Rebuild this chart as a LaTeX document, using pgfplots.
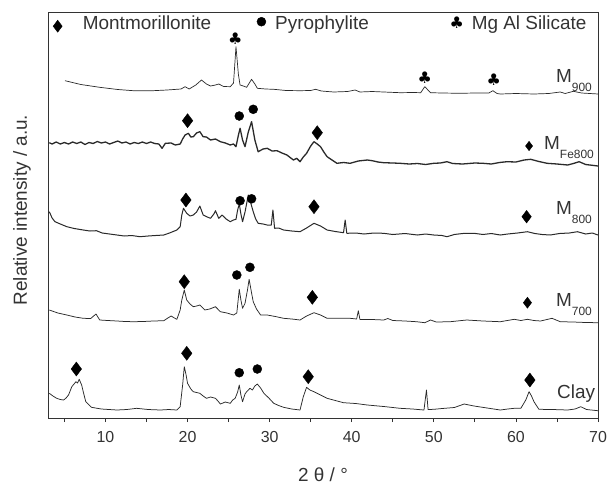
\documentclass[border=0pt]{standalone}
\usepackage{fontspec}
\setmainfont{Liberation Sans}
\newfontfamily\djv{DejaVu Sans}
\usepackage{pgfplots}
\pgfplotsset{compat=1.18}
\definecolor{curve}{HTML}{2A2A2A}
\definecolor{frame}{HTML}{333333}
\newcommand{\sam}[2]{{\fontsize{19}{19}\selectfont #1}\raisebox{-8.6bp}{\fontsize{12}{12}\selectfont #2}}
\begin{document}
\begin{tikzpicture}
\begin{axis}[
  scale only axis, width=550bp, height=406bp,
  xmin=3, xmax=70, ymin=12, ymax=418, y dir=reverse,
  clip=false,
  axis line style={frame, line width=0.9bp},
  xtick={10,20,...,70}, minor xtick={5,15,...,65},
  ytick=\empty,
  tick pos=bottom, tick align=outside,
  major tick length=4bp, minor tick length=4bp,
  every tick/.style={frame, line width=0.8bp},
  /pgf/number format/assume math mode=true,
  xticklabel style={font=\fontsize{16}{16}\selectfont, text=frame, yshift=-6bp},
  cycle list={{curve, no markers, line width=0.7bp, line join=round}},
]
% M900
\addplot[curve, no markers, line width=0.7bp, line join=round] coordinates {(5.07,80.7) (7,84.5) (9.3,87.3) (11.5,89.5) (13.4,90.7) (15.5,90.8) (17.5,90) (19.2,89) (19.7,86.7) (20.2,89) (21,85) (21.7,80) (22.3,84) (22.8,86) (23.4,85) (23.8,84) (24.4,86.5) (25.2,86.7) (25.6,83) (25.9,46.7) (26.2,75) (26.4,85) (26.8,86) (27.2,87.3) (27.8,79.3) (28.2,84) (28.5,88.3) (29.5,89) (30.5,89.3) (32,90.5) (33.7,90.7) (35.0,90.5) (35.6,89.3) (36.3,91) (37.8,92) (39.5,91.5) (40.4,90) (41,92) (42.5,91.5) (43.9,92) (45.9,92.7) (47.5,92.5) (48.4,92.7) (48.9,86.7) (49.6,92.7) (51,93) (53.2,93.3) (55,93) (56.7,93) (57.2,90.7) (57.7,93.5) (58.1,94) (60,93.5) (62.2,94) (64,93.5) (65.4,92) (66,93.5) (67,91.3) (68,93) (70,94)};
% MFe800
\addplot[curve, no markers, line width=1.3bp, line join=round] coordinates {(3.16,142.7) (3.5,144) (4,142) (4.5,144) (5,142.5) (5.5,144) (6,142) (6.5,143.5) (7,142) (7.5,144.5) (8,142.5) (8.5,143.5) (9,141.5) (9.5,143) (10,142) (10.5,144) (11,142.5) (11.5,141) (12,143) (12.5,142) (13,144) (13.5,142.5) (14,143.5) (14.5,142) (15,143.5) (15.5,142) (16,143.5) (16.5,144) (16.9,148.3) (17.3,143.3) (18,143) (18.5,145) (19.1,144) (19.4,139) (19.7,135) (20.1,133.3) (20.4,137) (20.7,136.7) (21.1,133) (21.5,131.7) (21.9,136.7) (22.3,137) (22.8,140) (23.4,139) (24,141.7) (24.6,143) (25.2,145) (25.6,144) (25.9,146.7) (26.2,135) (26.4,128.3) (26.7,140) (27,146.7) (27.4,132) (27.8,121.7) (28.2,140) (28.6,151.7) (29.2,149) (29.7,148.3) (30.3,151) (30.9,150.7) (31.5,153) (32.1,155) (32.9,160) (33.3,158.3) (33.7,161.7) (34.1,157) (34.5,153.3) (35,146) (35.4,141.7) (35.8,144) (36.2,146.7) (36.6,152) (37,156.7) (37.6,160) (38.2,163.3) (39,162.5) (39.8,163.3) (40.8,161) (41.9,160) (42.5,160.7) (43.2,162) (43.9,162.7) (45,163) (45.9,163.3) (47,164) (48,163.5) (49,164.5) (50,163.3) (50.8,163) (51.6,161.7) (52.3,163.5) (53.5,164) (55,163) (56,163.3) (57,164) (58,162.5) (58.9,161.7) (60,162) (61,160) (61.8,159.3) (62.8,161.5) (63.8,163.3) (65,164) (66.3,165) (67,163.5) (67.7,161.7) (68.5,164.5) (70,166)};
% M800
\addplot[curve, no markers, line width=1.0bp, line join=round] coordinates {(3.16,211.7) (3.5,218) (3.85,221.7) (4.5,224) (5.3,226.7) (6.2,228.5) (7.3,230) (8.1,231) (8.9,230.7) (9.6,233) (10.5,234) (11.4,235) (12.3,236) (13.2,235.5) (14.2,236.7) (15.2,236) (16.1,235.5) (17.1,235) (17.8,233) (18.4,231) (18.7,230) (19.1,226.7) (19.3,215) (19.5,208.3) (19.9,213.3) (20.3,216) (20.7,215) (21.1,212) (21.5,206) (21.9,215) (22.4,217) (22.8,218.3) (23.2,214) (23.4,210.7) (23.8,218.3) (24.2,215) (24.7,219) (25.2,221.7) (25.6,220) (25.9,219.3) (26.1,210) (26.3,204) (26.5,214) (26.7,221.7) (27.0,212) (27.4,195) (27.7,203) (28,211.7) (28.3,219) (28.6,223.3) (29.2,224) (29.7,225) (30.2,225) (30.4,210) (30.6,228.3) (31.1,228) (31.7,230) (32.7,231) (33.7,231.7) (34.5,228) (35.4,223.3) (36.2,226) (37,230) (38,231.5) (39,232.7) (39.2,220) (39.4,233.3) (40.5,233) (41.5,234) (42.7,233) (43.9,233.3) (45,234.5) (46.5,233.5) (48,235) (49,234) (50,235) (51,235.5) (51.6,236.7) (52.5,234.5) (53.5,233.5) (54.9,233.3) (56,234.5) (57,233.5) (58.1,235) (59,234) (60.2,233) (61.4,231.7) (62.3,233.5) (63.2,234.5) (64.2,235) (65.3,233.5) (66.5,233) (67.5,231.7) (68.5,234) (69.3,233) (70,235)};
% M700
\addplot[curve, no markers, line width=0.75bp, line join=round] coordinates {(3.16,310) (4.2,313) (5.3,315) (6.3,317) (7.3,318.3) (8.2,318.5) (8.85,314) (9.3,320) (10.3,320.5) (11.4,321) (12.4,321.5) (13.4,321.7) (14.6,321.5) (15.8,321) (17.1,320.7) (17.6,318) (18,316) (18.4,318) (18.7,319.3) (19.1,310) (19.3,300) (19.6,290) (19.9,300) (20.3,304) (20.7,306.7) (21.1,306) (21.5,305) (22.1,310) (22.7,309) (23.4,306.7) (24,311.7) (24.8,313) (25.6,315) (26,313) (26.3,289.3) (26.5,300) (26.7,308.3) (27,303.3) (27.3,290) (27.5,279.3) (27.8,293) (28,301.7) (28.4,309) (28.9,315) (29.7,315) (30.7,316.5) (31.7,318.3) (32.7,319) (33.7,320) (34.5,316) (35.4,312.7) (36.2,315) (37,318.3) (38.4,318.3) (39.8,318.3) (40.6,319) (40.8,310.7) (41,319.5) (42.5,319.5) (43.9,320) (44.4,318.5) (45,320.5) (46.5,321) (47.9,321.7) (48.9,322.7) (49.6,320) (50.3,322) (52,321.7) (54,320) (56,321) (58.1,321.7) (59.8,319.3) (60.6,320.5) (61.4,319.3) (62.2,320.5) (63,321) (64.4,318.3) (65.4,321.7) (67,322) (68.5,322.5) (70,322.7)};
% Clay
\addplot[curve, no markers, line width=0.75bp, line join=round] coordinates {(3.16,393.3) (3.6,396) (4.06,398.3) (4.5,399.5) (4.9,400) (5.2,398) (5.5,395) (5.9,386.7) (6.4,381.7) (6.6,383) (6.8,379.3) (7.1,385) (7.3,392) (7.6,401.7) (8.3,407.3) (9.5,409) (11.4,410) (12.6,409.5) (13.8,408.3) (15.2,409.5) (16.7,410) (17.7,409.5) (18.7,410) (19.1,406.7) (19.4,385) (19.6,366.7) (19.8,374) (20,383.3) (20.4,389) (20.7,391.7) (21.1,392.5) (21.5,393.3) (21.9,396) (22.3,398.3) (22.8,397) (23.4,398.3) (23.7,401) (24,404) (24.6,402) (25.2,403.3) (25.5,400) (25.8,398.3) (26.1,392) (26.3,385) (26.5,395) (26.7,401.7) (27,394) (27.2,391.7) (27.6,388.3) (27.9,390) (28.2,386) (28.5,384) (28.9,388) (29.3,393.3) (29.9,398) (30.5,403.3) (31.1,405.5) (31.7,407.3) (32.7,409) (33.7,410) (34.1,396.7) (34.5,387.3) (34.9,390) (35.4,391.7) (36.2,395) (37,398.3) (38,400.5) (39,402.7) (40.5,403.5) (41.9,405) (43.9,406.5) (45.9,408.3) (47.4,409) (48.8,410) (49.1,390) (49.3,409.5) (50,409.3) (51,408.5) (52.5,407.5) (53.7,404) (54.3,405) (54.9,406) (56.5,408) (58.1,410) (59,409) (59.8,408.3) (60.6,408.3) (61.2,400) (61.6,391.7) (61.9,396) (62.2,401.7) (62.8,409.3) (64.5,409.5) (66.3,410) (67.2,409) (67.9,406.7) (68.6,409.5) (70,410.7)};
% markers
\addplot[only marks, mark=diamond*, mark size=7bp, black] coordinates {(20.0,120.7) (35.8,132.7) (19.8,200) (35.4,206.7) (19.6,281.7) (35.2,297.3) (6.45,369) (19.9,353.3) (34.7,376.7) (61.7,380)};
\addplot[only marks, mark=diamond*, mark size=6.3bp, black] coordinates {(61.3,216.7)};
\addplot[only marks, mark=diamond*, mark size=5.5bp, black] coordinates {(61.4,302.7)};
\addplot[only marks, mark=diamond*, mark size=4.7bp, black] coordinates {(61.6,146)};
\addplot[only marks, mark=diamond*, mark size=6bp, black] coordinates {(4.18,26.2)};
\addplot[only marks, mark=*, mark size=4.5bp, black] coordinates {(26.3,116) (28.0,109.3) (26.4,200.7) (27.8,198.8) (26.0,275) (27.6,267.3) (26.3,372.7) (28.5,369) (29.0,21.7)};
\addplot[only marks, mark=text, text mark={\djv\fontsize{16}{16}\selectfont ♣}, black] coordinates {(25.8,38.3) (48.9,77.7) (57.3,79.3) (52.8,22.7)};
% legend texts
\node[anchor=base west, inner sep=0, font=\fontsize{19}{19}\selectfont, text=frame] at (axis cs:7.23,29.3) {Montmorillonite};
\node[anchor=base west, inner sep=0, font=\fontsize{19}{19}\selectfont, text=frame] at (axis cs:30.65,29.3) {Pyrophylite};
\node[anchor=base west, inner sep=0, font=\fontsize{19}{19}\selectfont, text=frame] at (axis cs:54.6,29.3) {Mg Al Silicate};
% sample labels
\node[anchor=base west, inner sep=0, text=frame] at (axis cs:64.88,82.7) {\sam{M}{900}};
\node[anchor=base west, inner sep=0, text=frame] at (axis cs:63.42,149.7) {\sam{M}{Fe800}};
\node[anchor=base west, inner sep=0, text=frame] at (axis cs:64.88,214.7) {\sam{M}{800}};
\node[anchor=base west, inner sep=0, text=frame] at (axis cs:64.88,306.7) {\sam{M}{700}};
\node[anchor=base west, inner sep=0, text=frame, font=\fontsize{19}{19}\selectfont] at (axis cs:65.0,398.7) {Clay};
% axis labels
\node[anchor=center, font=\fontsize{19}{19}\selectfont, text=frame] at ([yshift=-57bp]axis cs:36.5,418) {2 θ / °};
\node[anchor=center, rotate=90, font=\fontsize{19}{19}\selectfont, text=frame] at ([xshift=-26bp]axis cs:3,210) {Relative intensity / a.u.};
\coordinate (bl) at (axis cs:3,418);
\coordinate (tr) at (axis cs:70,12);
\end{axis}
\pgfresetboundingbox
\path ([xshift=-48bp,yshift=-68bp]bl) rectangle ([xshift=10bp,yshift=12bp]tr);
\end{tikzpicture}
\end{document}
